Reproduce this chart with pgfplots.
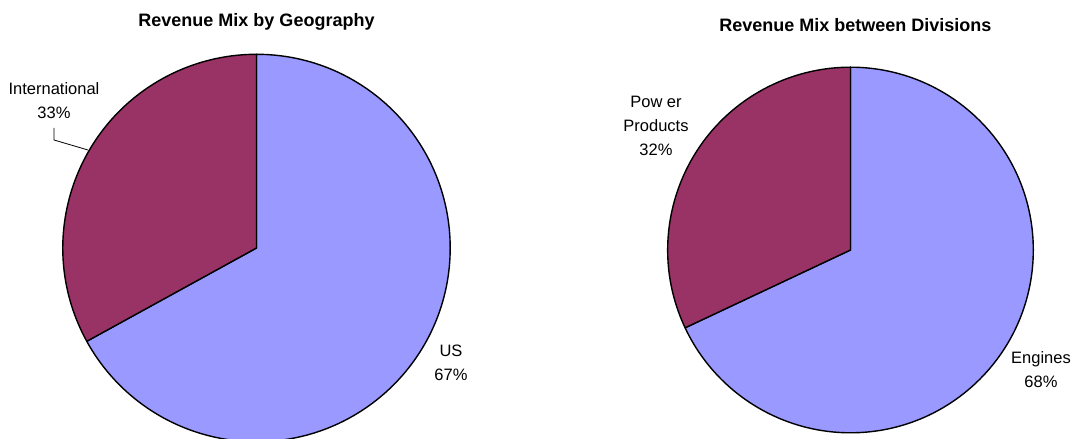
\documentclass[border=0pt]{standalone}
\usepackage{pgfplots}
\pgfplotsset{compat=1.18}
\usepackage{pgfplotstable}
\usepackage{fontspec}
\setmainfont{Liberation Sans}

\definecolor{sliceblue}{HTML}{9999FF}
\definecolor{slicemaroon}{HTML}{993366}

% Revenue shares in percent
\pgfplotstableread{
share pct
US 67
International 33
}\geotable
\pgfplotstableread{
share pct
Engines 68
PowerProducts 32
}\divtable

\tikzset{
  slice/.style={draw=black, line width=1.4pt, line join=round},
  lbl/.style={font=\fontsize{16.5}{24}\selectfont, align=center, inner sep=0pt},
}
\pgfplotsset{
  piebase/.style={
    hide axis, clip=false, scale only axis,
    ymin=0, ymax=439, height=439pt,
    title style={font=\fontsize{18}{20}\selectfont\bfseries, anchor=base, yshift=0pt},
  },
}

\begin{document}
\begin{tikzpicture}
\useasboundingbox (0,0) rectangle (1074pt,439pt);

% boundary angles (slices run clockwise from 12 o'clock)
\pgfplotstablegetelem{0}{pct}\of\geotable \edef\geoUS{\pgfplotsretval}
\pgfplotstablegetelem{1}{pct}\of\geotable \edef\geoIntl{\pgfplotsretval}
\pgfmathsetmacro\geoCut{90-3.6*\geoUS}
\pgfplotstablegetelem{0}{pct}\of\divtable \edef\divEng{\pgfplotsretval}
\pgfplotstablegetelem{1}{pct}\of\divtable \edef\divPow{\pgfplotsretval}
\pgfmathsetmacro\divCut{90-3.6*\divEng}

% Geography
\begin{axis}[piebase, at={(0pt,0pt)}, anchor=south west,
  xmin=0, xmax=513, width=513pt,
  title={Revenue Mix by Geography},
  title style={at={(0.5,0.925)}}]
  \filldraw[slice, fill=sliceblue] (axis cs:256.5,191) -- ++(90:193.7pt)
    arc[start angle=90, end angle=\geoCut, radius=193.7pt] -- cycle;
  \filldraw[slice, fill=slicemaroon] (axis cs:256.5,191) -- ++(\geoCut:193.7pt)
    arc[start angle=\geoCut, end angle=-270, radius=193.7pt] -- cycle;
  \node[lbl] at (axis cs:451,76.5) {US\\\geoUS\%};
  \node[lbl] at (axis cs:54,338.5) {International\\\geoIntl\%};
  \draw[black, line width=0.8pt] (axis cs:54,311) -- (axis cs:54,299) -- (axis cs:88,289);
\end{axis}

% Divisions
\begin{axis}[piebase, at={(627pt,0pt)}, anchor=south west,
  xmin=627, xmax=1074, width=447pt,
  title={Revenue Mix between Divisions},
  title style={at={(0.511,0.914)}}]
  \filldraw[slice, fill=sliceblue] (axis cs:850.5,189) -- ++(90:182.8pt)
    arc[start angle=90, end angle=\divCut, radius=182.8pt] -- cycle;
  \filldraw[slice, fill=slicemaroon] (axis cs:850.5,189) -- ++(\divCut:182.8pt)
    arc[start angle=\divCut, end angle=-270, radius=182.8pt] -- cycle;
  \node[lbl] at (axis cs:1041,69) {Engines\\\divEng\%};
  \node[lbl] at (axis cs:656,313) {Pow er\\Products\\\divPow\%};
\end{axis}
\end{tikzpicture}
\end{document}
